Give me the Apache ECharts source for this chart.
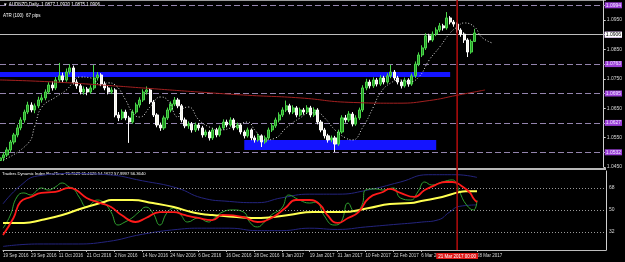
<!DOCTYPE html>
<html><head><meta charset="utf-8">
<script src="https://cdn.jsdelivr.net/npm/echarts@6/dist/echarts.min.js"></script>
<style>html,body{margin:0;padding:0;background:#000;}#c{width:625px;height:262px;}</style>
</head><body><div id="c"></div>
<script>
// ---- data ----
const tickLabels = ["19 Sep 2016","29 Sep 2016","11 Oct 2016","21 Oct 2016","2 Nov 2016","14 Nov 2016","24 Nov 2016","6 Dec 2016","16 Dec 2016","28 Dec 2016","9 Jan 2017","19 Jan 2017","31 Jan 2017","10 Feb 2017","22 Feb 2017","6 Mar 2017","16 Mar 2017","28 Mar 2017"];
// [open, close, low, high]
const candles = [
[1.0472,1.0481,1.0462,1.0490],[1.0481,1.0491,1.0470,1.0499],[1.0491,1.0508,1.0484,1.0517],[1.0508,1.0535,1.0501,1.0542],
[1.0535,1.0559,1.0527,1.0566],[1.0559,1.0583,1.0551,1.0594],[1.0583,1.0610,1.0575,1.0619],[1.0610,1.0637,1.0601,1.0645],
[1.0637,1.0661,1.0630,1.0672],[1.0661,1.0644,1.0636,1.0670],[1.0644,1.0658,1.0633,1.0666],[1.0658,1.0678,1.0650,1.0689],
[1.0678,1.0685,1.0669,1.0697],[1.0685,1.0705,1.0677,1.0714],[1.0705,1.0729,1.0698,1.0738],[1.0729,1.0719,1.0710,1.0741],
[1.0719,1.0746,1.0712,1.0756],[1.0746,1.0760,1.0738,1.0804],[1.0760,1.0746,1.0737,1.0771],[1.0746,1.0773,1.0740,1.0785],
[1.0773,1.0787,1.0765,1.0800],[1.0787,1.0739,1.0731,1.0795],[1.0739,1.0726,1.0716,1.0748],[1.0726,1.0705,1.0697,1.0733],
[1.0705,1.0715,1.0696,1.0724],[1.0715,1.0705,1.0694,1.0722],[1.0705,1.0719,1.0699,1.0728],[1.0719,1.0753,1.0712,1.0797],
[1.0753,1.0763,1.0744,1.0773],[1.0763,1.0732,1.0725,1.0769],[1.0732,1.0719,1.0711,1.0741],[1.0719,1.0705,1.0697,1.0728],
[1.0705,1.0712,1.0698,1.0721],[1.0712,1.0627,1.0619,1.0718],[1.0627,1.0617,1.0606,1.0637],[1.0617,1.0637,1.0610,1.0646],
[1.0637,1.0617,1.0609,1.0645],[1.0617,1.0603,1.0532,1.0624],[1.0603,1.0637,1.0597,1.0645],[1.0637,1.0661,1.0630,1.0669],
[1.0661,1.0678,1.0652,1.0687],[1.0678,1.0705,1.0671,1.0714],[1.0705,1.0712,1.0696,1.0724],[1.0712,1.0671,1.0664,1.0718],
[1.0671,1.0627,1.0620,1.0678],[1.0627,1.0593,1.0585,1.0633],[1.0593,1.0583,1.0573,1.0601],[1.0583,1.0617,1.0576,1.0625],
[1.0617,1.0644,1.0610,1.0652],[1.0644,1.0664,1.0636,1.0673],[1.0664,1.0678,1.0657,1.0688],[1.0678,1.0658,1.0650,1.0685],
[1.0658,1.0610,1.0602,1.0664],[1.0610,1.0590,1.0582,1.0618],[1.0590,1.0596,1.0580,1.0605],[1.0596,1.0576,1.0567,1.0603],
[1.0576,1.0593,1.0569,1.0601],[1.0593,1.0583,1.0574,1.0600],[1.0583,1.0559,1.0550,1.0590],[1.0559,1.0569,1.0552,1.0577],
[1.0569,1.0549,1.0540,1.0575],[1.0549,1.0576,1.0542,1.0584],[1.0576,1.0559,1.0551,1.0583],[1.0559,1.0583,1.0553,1.0591],
[1.0583,1.0603,1.0576,1.0612],[1.0603,1.0593,1.0585,1.0611],[1.0593,1.0610,1.0587,1.0619],[1.0610,1.0583,1.0575,1.0616],
[1.0583,1.0593,1.0577,1.0601],[1.0593,1.0569,1.0561,1.0599],[1.0569,1.0556,1.0547,1.0575],[1.0556,1.0576,1.0550,1.0584],
[1.0576,1.0549,1.0541,1.0581],[1.0549,1.0542,1.0533,1.0557],[1.0542,1.0556,1.0536,1.0564],[1.0556,1.0535,1.0518,1.0561],
[1.0535,1.0549,1.0529,1.0557],[1.0549,1.0576,1.0543,1.0584],[1.0576,1.0590,1.0569,1.0599],[1.0590,1.0610,1.0583,1.0618],
[1.0610,1.0627,1.0602,1.0636],[1.0627,1.0644,1.0620,1.0653],[1.0644,1.0658,1.0637,1.0676],[1.0658,1.0637,1.0629,1.0665],
[1.0637,1.0651,1.0630,1.0660],[1.0651,1.0627,1.0619,1.0657],[1.0627,1.0644,1.0621,1.0652],[1.0644,1.0637,1.0628,1.0651],
[1.0637,1.0651,1.0630,1.0660],[1.0651,1.0627,1.0619,1.0658],[1.0627,1.0644,1.0620,1.0653],[1.0644,1.0603,1.0595,1.0650],
[1.0603,1.0576,1.0568,1.0610],[1.0576,1.0556,1.0547,1.0583],[1.0556,1.0542,1.0533,1.0563],[1.0542,1.0549,1.0534,1.0557],
[1.0549,1.0528,1.0501,1.0556],[1.0528,1.0569,1.0522,1.0577],[1.0569,1.0617,1.0563,1.0626],[1.0617,1.0610,1.0601,1.0627],
[1.0610,1.0630,1.0603,1.0640],[1.0630,1.0596,1.0588,1.0637],[1.0596,1.0617,1.0590,1.0626],[1.0617,1.0644,1.0610,1.0652],
[1.0644,1.0719,1.0637,1.0728],[1.0719,1.0739,1.0711,1.0750],[1.0739,1.0726,1.0717,1.0747],[1.0726,1.0746,1.0719,1.0755],
[1.0746,1.0732,1.0724,1.0753],[1.0732,1.0753,1.0726,1.0762],[1.0753,1.0739,1.0731,1.0760],[1.0739,1.0760,1.0733,1.0769],
[1.0760,1.0773,1.0752,1.0797],[1.0773,1.0753,1.0745,1.0780],[1.0753,1.0739,1.0731,1.0760],[1.0739,1.0726,1.0717,1.0745],
[1.0726,1.0746,1.0720,1.0754],[1.0746,1.0732,1.0723,1.0752],[1.0732,1.0760,1.0726,1.0768],[1.0760,1.0800,1.0753,1.0809],
[1.0800,1.0831,1.0793,1.0840],[1.0831,1.0855,1.0824,1.0864],[1.0855,1.0896,1.0848,1.0905],[1.0896,1.0882,1.0873,1.0903],
[1.0882,1.0902,1.0876,1.0911],[1.0902,1.0916,1.0895,1.0925],[1.0916,1.0930,1.0909,1.0940],[1.0930,1.0923,1.0914,1.0937],
[1.0923,1.0957,1.0917,1.0977],[1.0957,1.0943,1.0935,1.0963],[1.0943,1.0936,1.0927,1.0950],[1.0936,1.0916,1.0907,1.0942],
[1.0916,1.0902,1.0893,1.0922],[1.0902,1.0882,1.0872,1.0908],[1.0882,1.0841,1.0824,1.0888],[1.0841,1.0877,1.0835,1.0884],
[1.0877,1.0906,1.0875,1.0920]
];
const slowMA = [[0,1.0746],[14,1.0740],[29,1.0729],[43,1.0717],[57,1.0705],[71,1.0694],[86,1.0685],[100,1.0670],[114,1.0667],[123,1.0676],[131,1.0694],[139,1.0712]];
const shiftedMA = [[1,1.0474],[8,1.0530],[10,1.0590],[12,1.0654],[16,1.0688],[19,1.0712],[23,1.0756],[26,1.0753],[29,1.0729],[31,1.0736],[33,1.0729],[36,1.0678],[38,1.0634],[40,1.0620],[43,1.0654],[46,1.0688],[48,1.0678],[51,1.0620],[52,1.0644],[54,1.0654],[57,1.0610],[60,1.0586],[63,1.0576],[67,1.0586],[71,1.0603],[73,1.0576],[76,1.0542],[79,1.0549],[82,1.0583],[86,1.0617],[89,1.0634],[91,1.0634],[93,1.0617],[96,1.0576],[99,1.0549],[101,1.0542],[104,1.0586],[107,1.0654],[109,1.0702],[112,1.0736],[115,1.0746],[117,1.0739],[120,1.0756],[123,1.0814],[126,1.0858],[129,1.0906],[131,1.0926],[133,1.0940],[136,1.0926],[138,1.0892],[141,1.0872]];
const userLevels = [1.0994, 1.0940, 1.0763, 1.0695, 1.0627, 1.0532];
const lastPrice = 1.0906;
const resistanceZone = [0, 129, 1.0773, 1.0756];
const supportZone = [70, 125, 1.0542, 1.0508];
const vLineBar = 131;
const vLineLabel = "21 Mar 2017 00:00";
// TDI
const tdiGreen = [[0,35.0],[2,45.0],[4,60.7],[6,64.0],[8,62.3],[9,64.0],[11,68.1],[13,66.4],[15,68.9],[17,72.2],[19,68.9],[20,68.1],[22,59.9],[24,52.4],[25,54.1],[27,58.2],[29,55.7],[31,48.3],[33,37.6],[35,40.1],[37,43.4],[39,48.3],[41,52.4],[43,47.5],[45,37.6],[47,47.5],[49,51.6],[51,45.9],[53,40.1],[56,43.4],[59,40.1],[60,41.7],[63,48.3],[66,50.0],[69,48.3],[71,39.3],[73,36.0],[75,40.1],[77,45.9],[80,51.6],[82,62.3],[85,58.2],[88,55.7],[90,56.6],[92,45.9],[95,37.6],[97,40.1],[99,55.7],[101,48.3],[103,54.1],[104,66.4],[107,67.3],[109,66.4],[112,68.1],[114,59.9],[117,58.2],[119,64.8],[121,73.0],[123,70.5],[126,73.0],[129,74.7],[130,72.2],[131,64.8],[133,54.1],[135,50.0],[136,58.0]];
const tdiRed = [[0,29.4],[3,43.4],[5,56.6],[8,60.7],[11,64.0],[15,64.8],[19,68.1],[21,66.4],[24,59.9],[28,55.7],[31,52.4],[34,45.9],[38,40.1],[41,43.4],[45,48.3],[49,48.3],[52,45.9],[56,43.4],[60,41.7],[63,45.9],[69,44.2],[73,40.1],[77,43.4],[81,51.6],[84,58.2],[88,58.2],[91,54.1],[93,45.9],[96,39.3],[99,43.4],[102,48.3],[105,59.9],[109,64.8],[111,67.3],[114,64.0],[118,60.7],[121,66.4],[124,70.5],[127,73.0],[129,73.0],[132,68.9],[134,64.0],[135,59.5],[136,56.4]];
const tdiYellow = [[0,39.3],[6,39.3],[11,41.7],[17,45.9],[23,51.6],[29,56.6],[31,58.2],[37,58.2],[43,55.7],[49,52.4],[54,48.3],[57,46.7],[60,45.9],[67,44.2],[74,43.4],[82,45.9],[89,48.3],[97,48.3],[105,51.6],[111,54.9],[117,55.7],[120,57.4],[126,60.7],[131,64.8],[133,65.4],[136,65.46]];
const tdiUpper = [[0,55],[5,70],[10,78],[20,80],[30,79],[40,74],[50,68],[57,60],[65,57],[73,56],[80,60],[88,63],[96,63],[104,66],[114,73],[122,79],[130,79],[136,76.76]];
const tdiLower = [[0,20],[10,22],[20,22],[30,24],[40,30],[50,34],[57,35],[65,35],[73,33],[80,33],[88,35],[96,34],[104,36],[112,38],[120,40],[125,42],[128,48],[131,53],[136,54.16]];
const tdiLevels = [68, 50, 32];
const tdiRange = [17.0628, 82.0585];
const headerText = "\u25BC AUDNZD,Daily  1.0877 1.0920 1.0875 1.0906";
const atrText = "ATR (100)  67 pips";
const tdiTitle = "Traders Dynamic Index RealTime 76.7629 65.4626 54.1622 57.9997 56.3640";

// ---- chart ----
const SLOTS = 174;
const cats = Array.from({length: SLOTS}, (_, i) => String(i));
const labelEvery = 8;
const showTick = (i) => i % labelEvery === 0 && i < candles.length && i !== 128;
const FONT = 'Liberation Sans';
const axisTxt = '#d8d8d8';
const vRed = '#a80c0c';

const chart = echarts.init(document.getElementById('c'), null, {renderer: 'canvas'});
const levelLines = userLevels.map(v => ({
  yAxis: v,
  lineStyle: {color: '#9484ae', type: [6, 3], width: 1},
  label: {show: true, position: 'end', formatter: v.toFixed(4), backgroundColor: '#9a3fd6', color: '#f0e8ff', fontSize: 5, fontFamily: FONT, padding: [1, 1, 0, 1], distance: 1}
}));
levelLines.push({
  yAxis: lastPrice,
  lineStyle: {color: '#bdbdbd', type: 'solid', width: 1},
  label: {show: true, position: 'end', formatter: lastPrice.toFixed(4), backgroundColor: '#ffffff', color: '#000', fontSize: 5, fontFamily: FONT, padding: [1, 1, 0, 1], distance: 1}
});

const option = {
  backgroundColor: '#000',
  animation: false,
  grid: [
    {left: 0, right: 19, top: 0, height: 167},
    {left: 0, right: 19, top: 171, height: 79}
  ],
  xAxis: [
    {type: 'category', gridIndex: 0, data: cats, boundaryGap: false,
     axisLine: {show: false}, axisTick: {show: false}, axisLabel: {show: false}, splitLine: {show: false}},
    {type: 'category', gridIndex: 1, data: cats, boundaryGap: false,
     axisLine: {show: true, lineStyle: {color: '#bdbdbd', width: 1}},
     axisTick: {show: true, interval: (i) => showTick(i), length: 2, lineStyle: {color: '#bdbdbd'}},
     axisLabel: {show: true, interval: (i) => showTick(i), formatter: (v, i) => tickLabels[i / labelEvery],
       color: axisTxt, fontSize: 4.5, fontFamily: FONT, align: 'left', margin: 3},
     splitLine: {show: false}}
  ],
  yAxis: [
    {type: 'value', gridIndex: 0, position: 'right', min: 1.045, max: 1.1018, interval: 0.005,
     axisLine: {show: true, lineStyle: {color: '#d0d0d0'}},
     axisTick: {show: true, length: 2, lineStyle: {color: '#d0d0d0'}},
     axisLabel: {color: axisTxt, fontSize: 5, fontFamily: FONT, margin: 3, showMaxLabel: false, formatter: v => v.toFixed(4)},
     splitLine: {show: false}},
    {type: 'value', gridIndex: 1, position: 'right', min: tdiRange[0], max: tdiRange[1],
     axisLine: {show: true, lineStyle: {color: '#d0d0d0'}},
     axisTick: {show: false}, axisLabel: {show: false}, splitLine: {show: false}}
  ],
  series: [
    {type: 'candlestick', xAxisIndex: 0, yAxisIndex: 0, data: candles, barWidth: 2.6, z: 3,
     itemStyle: {color: '#259225', color0: '#f4f4e8', borderColor: '#4ad84a', borderColor0: '#ffffff', borderWidth: 1},
     markArea: {silent: true, z: 1, itemStyle: {color: '#1414ff'}, data: [
       [{xAxis: resistanceZone[0], yAxis: resistanceZone[2]}, {xAxis: resistanceZone[1], yAxis: resistanceZone[3]}],
       [{xAxis: supportZone[0], yAxis: supportZone[2]}, {xAxis: supportZone[1], yAxis: supportZone[3]}]
     ]},
     markLine: {silent: true, symbol: 'none', z: 2, data: levelLines}
    },
    {type: 'line', xAxisIndex: 0, yAxisIndex: 0, data: slowMA, smooth: true, showSymbol: false, z: 4,
     lineStyle: {color: '#a32020', width: 1}},
    {type: 'line', xAxisIndex: 0, yAxisIndex: 0, data: shiftedMA, smooth: true, showSymbol: false, z: 4,
     lineStyle: {color: '#e0e0e0', width: 1, type: [1, 2]}},
    {type: 'line', xAxisIndex: 1, yAxisIndex: 1, data: tdiUpper, smooth: true, showSymbol: false,
     lineStyle: {color: '#24247e', width: 1}},
    {type: 'line', xAxisIndex: 1, yAxisIndex: 1, data: tdiLower, smooth: true, showSymbol: false,
     lineStyle: {color: '#24247e', width: 1}},
    {type: 'line', xAxisIndex: 1, yAxisIndex: 1, data: tdiYellow, smooth: true, showSymbol: false, z: 5,
     lineStyle: {color: '#ffff50', width: 2},
     markLine: {silent: true, symbol: 'none', data: [
       ...tdiLevels.map(v => ({yAxis: v, lineStyle: {color: '#9a9a9a', type: [1, 2], width: 1},
          label: {show: true, position: 'end', formatter: String(v), color: axisTxt, fontSize: 5, fontFamily: FONT, distance: 3}})),
       ...tdiRange.map(v => ({yAxis: v, lineStyle: {opacity: 0},
          label: {show: true, position: 'end', formatter: v.toFixed(4), color: axisTxt, fontSize: 4.5, fontFamily: FONT, distance: 2}}))
     ]}},
    {type: 'line', xAxisIndex: 1, yAxisIndex: 1, data: tdiGreen, smooth: true, showSymbol: false, z: 4,
     lineStyle: {color: '#2fa02f', width: 1}},
    {type: 'line', xAxisIndex: 1, yAxisIndex: 1, data: tdiRed, smooth: true, showSymbol: false, z: 6,
     lineStyle: {color: '#ff1a1a', width: 1.8}}
  ]
};
chart.setOption(option);

// vertical time line and its date box, placed through the axis scale
const vx = chart.convertToPixel({xAxisIndex: 0}, vLineBar);
chart.setOption({
  graphic: [
    {type: 'rect', shape: {x: 0, y: 0, width: 606, height: 1}, style: {fill: '#9a9a9a'}, silent: true},
    {type: 'rect', shape: {x: 0, y: 168, width: 606, height: 2}, style: {fill: '#b8b8b8'}, silent: true},
    {type: 'rect', shape: {x: vx - 0.8, y: 0, width: 1.6, height: 250}, style: {fill: vRed}, silent: true, z: 50},
    {type: 'text', x: vx, y: 253, style: {text: vLineLabel, fill: '#fff', fontSize: 4.5, fontFamily: FONT, align: 'center',
      backgroundColor: '#e01818', padding: [1, 2, 0, 2]}, silent: true, z: 50},
    {type: 'text', x: 3, y: 2, style: {text: headerText, fill: '#ffffff', fontSize: 4.5, fontFamily: FONT}, silent: true},
    {type: 'text', x: 3, y: 13, style: {text: atrText, fill: '#ffffff', fontSize: 4.5, fontFamily: FONT}, silent: true},
    {type: 'text', x: 2, y: 172, style: {text: tdiTitle, fill: '#ffffff', fontSize: 4.2, fontFamily: FONT}, silent: true}
  ]
});
</script></body></html>
